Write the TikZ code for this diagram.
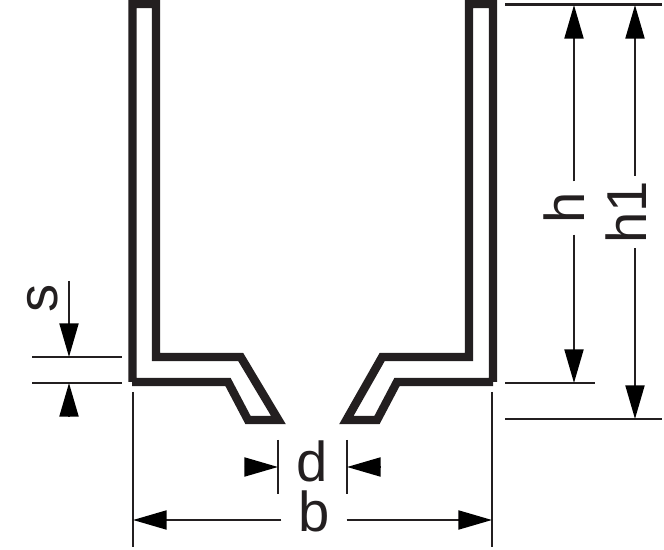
\documentclass[tikz,border=0pt]{standalone}
\usepackage{fontspec}
\setmainfont{Liberation Sans}
\usetikzlibrary{arrows.meta}
\definecolor{ink}{HTML}{231F20}
\tikzset{
  profile/.style={draw=ink,line width=4.8pt,miter limit=10},
  dimline/.style={draw=ink,line width=1.3pt},
  dimarrow/.style={dimline,-{Triangle[length=19.2pt,width=10.8pt,color=black]}},
  dimlabel/.style={anchor=base,inner sep=0pt,text=ink,font=\fontsize{32}{36}\selectfont},
}
\begin{document}
\begin{tikzpicture}[x=0.02cm,y=-0.02cm]
  \useasboundingbox (0,0) rectangle (664,550);
  \draw[profile] (132,382) -- (228,382) -- (248,420) -- (278.4,420) -- (240.7,357)
    -- (156,357) -- (156,4) -- (132.5,4) -- (132.5,382);
  \draw[profile] (493,382) -- (397,382) -- (377,420) -- (346.4,420) -- (382.2,357)
    -- (469,357) -- (469,4) -- (493,4) -- (493,382);
  \draw
    (574,5) coordinate (htop)
    (574,383) coordinate (hbot)
    (635,5) coordinate (hatop)
    (635,419) coordinate (habot)
    (69,357) coordinate (stip)
    (69,281) coordinate (sstart)
    (69,383) coordinate (stipb)
    (69,416.5) coordinate (sstartb)
    (278,467) coordinate (dtip)
    (244.5,467) coordinate (dstart)
    (347,467) coordinate (dtipb)
    (380.5,467) coordinate (dstartb)
    (133,520) coordinate (btip)
    (492,520) coordinate (btipb);
  \node[dimlabel,rotate=90,outer xsep=6.3pt] (h) at (584,208) {h};
  \node[dimlabel,rotate=90,outer xsep=2.8pt] (h1) at (646,212) {h1};
  \node[dimlabel,rotate=90] (s) at (57,298) {s};
  \node[dimlabel] (d) at (312,482) {d};
  \node[dimlabel,outer xsep=9.7pt] (b) at (314,532) {b};
  \begin{scope}[dimline]
    \draw (505,4.5) coordinate (ta) -- (662,4.5) coordinate (tb);
    \draw (505,383) coordinate (ma) -- (595,383) coordinate (mb);
    \draw (505,419) coordinate (la) -- (662,419) coordinate (lb);
    \draw (32,357) coordinate (sa) -- (122,357) coordinate (sb);
    \draw (32,383) coordinate (sc) -- (122,383) coordinate (sd);
    \draw (278,440) coordinate (da) -- (278,494) coordinate (db);
    \draw (347,440) coordinate (dc) -- (347,494) coordinate (dd);
    \draw (133,392) coordinate (ba) -- (133,547) coordinate (bb);
    \draw (492,392) coordinate (bc) -- (492,547) coordinate (bd);
  \end{scope}
  \draw[dimarrow] (htop |- h.east) -- (htop);
  \draw[dimarrow] (hbot |- h.west) -- (hbot);
  \draw[dimarrow] (hatop |- h1.east) -- (hatop);
  \draw[dimarrow] (habot |- h1.west) -- (habot);
  \draw[dimarrow] (sstart) -- (stip);
  \draw[dimarrow] (sstartb) -- (stipb);
  \draw[dimarrow] (dstart) -- (dtip);
  \draw[dimarrow] (dstartb) -- (dtipb);
  \draw[dimarrow] (b.west |- btip) -- (btip);
  \draw[dimarrow] (b.east |- btipb) -- (btipb);
\end{tikzpicture}
\end{document}
